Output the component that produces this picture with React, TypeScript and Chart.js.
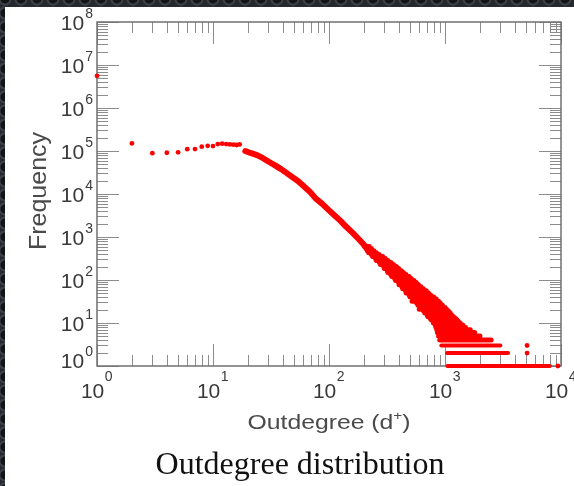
import { useEffect, useRef } from "react";
import { Chart, registerables } from "chart.js";

Chart.register(...registerables);

// ---- data ----
const headDegree = [1, 2, 3, 4, 5, 6, 7, 8, 9, 10, 11, 12, 13, 14, 15, 16, 17];
const headFrequency = [5.6e6, 1.5e5, 8.9e4, 9.1e4, 9.3e4, 1.1e5, 1.11e5, 1.26e5, 1.32e5, 1.3e5, 1.45e5, 1.48e5, 1.45e5, 1.42e5, 1.4e5, 1.38e5, 1.42e5];

const bodyDegree = [19, 21, 24, 27, 30, 34, 38, 43, 48, 54, 60, 68, 77, 87, 98, 110, 125, 140, 160, 180, 200, 225];
const bodyFrequency = [1.0e5, 9.0e4, 8.0e4, 6.8e4, 5.7e4, 4.7e4, 3.9e4, 3.1e4, 2.5e4, 2.0e4, 1.55e4, 1.15e4, 7.8e3, 6.0e3, 4.4e3, 3.3e3, 2.4e3, 1.75e3, 1.25e3, 900, 660, 480];

// noisy tail: for each frequency level, the range of outdegrees it covers
const tailFrequency = [600, 540, 480, 430, 390, 350, 315, 285, 255, 230, 205, 185, 165, 150, 135, 120, 108, 97, 87, 78, 70, 63, 56, 50, 45, 40, 36, 32, 29, 26, 23, 21, 19, 17, 15, 14, 13, 12, 11, 10, 9, 8, 7, 6, 5, 4, 3, 2, 1];
const tailDegreeMin = [202, 208, 214, 220, 232, 238, 252, 256, 272, 278, 296, 300, 318, 322, 340, 348, 368, 375, 398, 402, 425, 432, 458, 462, 490, 500, 530, 520, 570, 585, 615, 600, 655, 670, 705, 715, 745, 755, 785, 795, 825, 835, 850, 860, 880, 900, 930, 1040, 1050];
const tailDegreeMax = [222, 232, 244, 256, 270, 290, 306, 322, 342, 360, 380, 398, 420, 438, 460, 490, 510, 540, 565, 590, 620, 650, 690, 720, 750, 800, 840, 880, 910, 950, 1000, 1030, 1070, 1110, 1150, 1180, 1220, 1260, 1300, 1350, 1420, 1500, 1650, 1800, 2000, 2500, 3000, 3500, 8000];

const strayDegree = [5100, 5100, 9400];
const strayFrequency = [3, 2, 1];

const xExponents = [0, 1, 2, 3, 4];
const yExponents = [0, 1, 2, 3, 4, 5, 6, 7, 8];

const xTitle = "Outdegree (d";
const xTitleSup = "+";
const yTitle = "Frequency";
const mainTitle = "Outdegree distribution";

const RED = "#ff0000";

const framePlugin = {
  id: "frameTicks",
  beforeDatasetsDraw(chart: any) {
    const { ctx, chartArea } = chart;
    const xs = chart.scales.x;
    const ys = chart.scales.y;
    const { left, right, top, bottom } = chartArea;
    ctx.save();
    ctx.strokeStyle = "#8c8c8c";
    ctx.lineWidth = 1;
    const major = 22;
    const minor = 11;
    for (let e = xExponents[0]; e <= xExponents[xExponents.length - 1]; e++) {
      for (let k = 1; k <= 9; k++) {
        if (e === xExponents[xExponents.length - 1] && k > 1) break;
        const v = k * Math.pow(10, e);
        const px = Math.round(xs.getPixelForValue(v)) + 0.5;
        const len = k === 1 ? major : minor;
        ctx.beginPath();
        ctx.moveTo(px, bottom);
        ctx.lineTo(px, bottom - len);
        ctx.moveTo(px, top);
        ctx.lineTo(px, top + len);
        ctx.stroke();
      }
    }
    for (let e = yExponents[0]; e <= yExponents[yExponents.length - 1]; e++) {
      for (let k = 1; k <= 9; k++) {
        if (e === yExponents[yExponents.length - 1] && k > 1) break;
        const v = k * Math.pow(10, e);
        const py = Math.round(ys.getPixelForValue(v)) + 0.5;
        const len = k === 1 ? major : minor;
        ctx.beginPath();
        ctx.moveTo(left, py);
        ctx.lineTo(left + len, py);
        ctx.moveTo(right, py);
        ctx.lineTo(right - len, py);
        ctx.stroke();
      }
    }
    ctx.strokeStyle = "#707070";
    ctx.lineWidth = 1.5;
    ctx.strokeRect(left, top, right - left, bottom - top);
    ctx.restore();
  },
  afterDraw(chart: any) {
    const { ctx, chartArea } = chart;
    const xs = chart.scales.x;
    const ys = chart.scales.y;
    ctx.save();
    ctx.fillStyle = "#3a3a3a";
    ctx.textBaseline = "alphabetic";
    ctx.textAlign = "left";
    const big = "21px 'Liberation Sans', Arial, sans-serif";
    const small = "14px 'Liberation Sans', Arial, sans-serif";
    for (const e of xExponents) {
      const px = xs.getPixelForValue(Math.pow(10, e));
      ctx.font = big;
      const w10 = ctx.measureText("10").width;
      ctx.font = small;
      const we = ctx.measureText(String(e)).width;
      const start = px - (w10 + 1 + we) / 2;
      ctx.font = big;
      ctx.fillText("10", start, 398);
      ctx.font = small;
      ctx.fillText(String(e), start + w10 + 0.5, 381);
    }
    for (const e of yExponents) {
      let py = ys.getPixelForValue(Math.pow(10, e));
      if (py > chartArea.bottom - 6) py = chartArea.bottom - 6;
      ctx.font = small;
      const we = ctx.measureText(String(e)).width;
      const xe = chartArea.left - 4 - we;
      ctx.fillText(String(e), xe, py - 4);
      ctx.font = big;
      ctx.textAlign = "right";
      ctx.fillText("10", xe - 1, py + 7.5);
      ctx.textAlign = "left";
    }
    ctx.fillStyle = "#4a4a4a";
    const tBig = "21px 'Liberation Sans', Arial, sans-serif";
    const tSmall = "13px 'Liberation Sans', Arial, sans-serif";
    ctx.font = tBig;
    const w1 = ctx.measureText(xTitle).width;
    const w3 = ctx.measureText(")").width;
    ctx.font = tSmall;
    const w2 = ctx.measureText(xTitleSup).width;
    const natural = w1 + w2 + w3;
    const target = 163;
    const cx = (chartArea.left + chartArea.right) / 2;
    ctx.save();
    ctx.translate(cx - target / 2, 429);
    ctx.scale(target / natural, 1);
    ctx.font = tBig;
    ctx.fillText(xTitle, 0, 0);
    ctx.font = tSmall;
    ctx.fillText(xTitleSup, w1, -9);
    ctx.font = tBig;
    ctx.fillText(")", w1 + w2, 0);
    ctx.restore();
    ctx.save();
    ctx.translate(46, 191);
    ctx.rotate(-Math.PI / 2);
    ctx.font = "24px 'Liberation Sans', Arial, sans-serif";
    const wy = ctx.measureText(yTitle).width;
    ctx.scale(118 / wy, 1);
    ctx.textAlign = "center";
    ctx.fillText(yTitle, 0, 0);
    ctx.restore();
    ctx.fillStyle = "#111111";
    ctx.font = "32px 'Liberation Serif', 'Times New Roman', serif";
    ctx.textAlign = "center";
    ctx.fillText(mainTitle, 300, 474);
    ctx.restore();
  },
};

export default function App() {
  const canvasRef = useRef<HTMLCanvasElement | null>(null);

  useEffect(() => {
    const canvas = canvasRef.current;
    if (!canvas) return;
    const datasets: any[] = [];
    datasets.push({
      label: "head",
      data: headDegree.map((d, i) => ({ x: d, y: headFrequency[i] })),
      pointRadius: 2.4,
      pointBackgroundColor: RED,
      pointBorderWidth: 0,
      showLine: false,
      clip: false,
    });
    datasets.push({
      label: "body",
      data: bodyDegree.map((d, i) => ({ x: d, y: bodyFrequency[i] })),
      showLine: true,
      borderColor: RED,
      borderWidth: 6,
      borderCapStyle: "round",
      borderJoinStyle: "round",
      pointRadius: 0,
      clip: false,
    });
    tailFrequency.forEach((f, i) => {
      datasets.push({
        label: "tail" + f,
        data: [
          { x: tailDegreeMin[i], y: f },
          { x: tailDegreeMax[i], y: f },
        ],
        showLine: true,
        borderColor: RED,
        borderWidth: f <= 3 ? 4 : 5,
        borderCapStyle: "round",
        pointRadius: 0,
        clip: false,
      });
    });
    datasets.push({
      label: "stray",
      data: strayDegree.map((d, i) => ({ x: d, y: strayFrequency[i] })),
      pointRadius: 2.4,
      pointBackgroundColor: RED,
      pointBorderWidth: 0,
      showLine: false,
      clip: false,
    });

    const chart = new Chart(canvas, {
      type: "scatter",
      data: { datasets },
      options: {
        responsive: false,
        animation: false,
        devicePixelRatio: 1,
        layout: { padding: { left: 97, right: 13, top: 22, bottom: 120 } },
        plugins: { legend: { display: false }, tooltip: { enabled: false }, title: { display: false } },
        scales: {
          x: { type: "logarithmic", min: 1, max: 10000, display: false },
          y: { type: "logarithmic", min: 1, max: 1e8, display: false },
        },
      } as any,
      plugins: [framePlugin],
    });
    return () => chart.destroy();
  }, []);

  return (
    <div
      style={{
        position: "fixed",
        left: 0,
        top: 0,
        width: 574,
        height: 486,
        backgroundColor: "#25282e",
        backgroundImage:
          "radial-gradient(circle at 50% 50%, #121417 0 4px, #3d4148 5px 6px, transparent 7px)",
        backgroundSize: "16px 14px",
        backgroundPosition: "-3px -8px",
        overflow: "hidden",
      }}
    >
      <div style={{ position: "absolute", left: 5, top: 7, right: 0, bottom: 0, background: "#ffffff" }} />
      <canvas ref={canvasRef} width={574} height={486} style={{ position: "absolute", left: 0, top: 0 }} />
    </div>
  );
}
